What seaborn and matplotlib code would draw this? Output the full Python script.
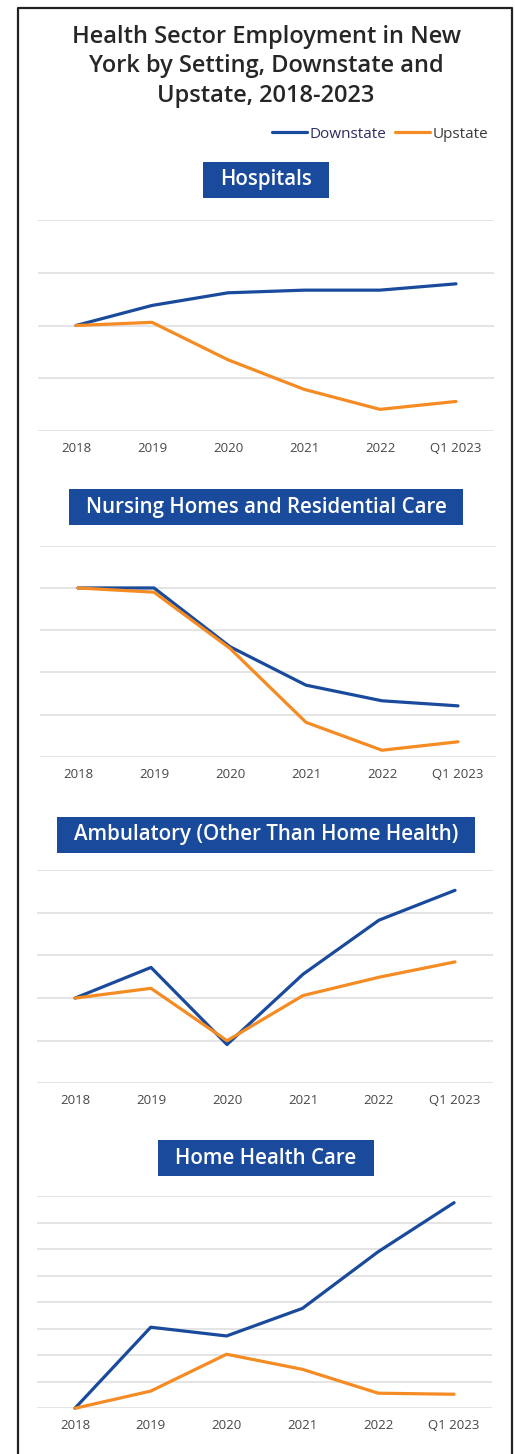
import numpy as np
import pandas as pd
import matplotlib
matplotlib.use("Agg")
import matplotlib.pyplot as plt
import seaborn as sns
from matplotlib.patches import Rectangle
from matplotlib.lines import Line2D

# ---------------- data (percent change since 2018) -------------
periods = ["2018", "2019", "2020", "2021", "2022", "Q1 2023"]
series_names = ["Downstate", "Upstate"]
panel_titles = ["Hospitals", "Nursing Homes and Residential Care",
                "Ambulatory (Other Than Home Health)", "Home Health Care"]

hosp_down = [0.0, 0.76, 1.24, 1.34, 1.34, 1.58]
hosp_up = [0.0, 0.12, -1.30, -2.42, -3.18, -2.88]
nurs_down = [0.0, 0.0, -6.95, -11.5, -13.35, -13.95]
nurs_up = [0.0, -0.5, -7.15, -15.9, -19.2, -18.2]
amb_down = [0.0, 2.88, -4.36, 2.24, 7.32, 10.12]
amb_up = [0.0, 0.92, -4.0, 0.24, 1.96, 3.4]
home_down = [0.0, 15.3, 13.65, 18.85, 29.55, 38.8]
home_up = [0.0, 3.25, 10.2, 7.35, 2.85, 2.65]

grid_hosp = [-4, -2, 0, 2, 4]
grid_nurs = [-20, -15, -10, -5, 0, 5]
grid_amb = [-8, -4, 0, 4, 8, 12]
grid_home = [0, 5, 10, 15, 20, 25, 30, 35, 40]

# ---------------- style -----------------
sns.set_theme(style="white")
plt.rcParams['font.family'] = ['Open Sans', 'DejaVu Sans']

BLUE = "#1a4a9c"
ORANGE = "#f58b23"
GRID = "#dcdcdc"
TICK = "#474747"

W, H = 515, 1454
fig = plt.figure(figsize=(W / 100, H / 100), dpi=100)
fig.patch.set_facecolor("white")

def fx(px):
    return px / W

def fy(py):
    return 1 - py / H

# frame (left, top, right; no bottom)
fig.add_artist(Line2D([fx(17.5), fx(17.5), fx(512), fx(512)],
                      [fy(1460), fy(7.5), fy(7.5), fy(1460)],
                      transform=fig.transFigure, color="#222222", lw=1.6))

# title
fig.text(fx(266), fy(66.5), "Health Sector Employment in New\nYork by Setting, Downstate and\nUpstate, 2018-2023",
         ha="center", va="center", fontsize=17, fontweight="semibold", color="#262626",
         linespacing=1.31)

# legend
handles = [Line2D([], [], color=BLUE, lw=2.3, solid_capstyle="round"),
           Line2D([], [], color=ORANGE, lw=2.3, solid_capstyle="round")]
leg = fig.legend(handles, series_names, loc="center right",
                 bbox_to_anchor=(fx(488), fy(134)), ncol=2, frameon=False,
                 fontsize=11, handlelength=2.3, handletextpad=0.15,
                 columnspacing=0.55, borderpad=0, borderaxespad=0)
leg.get_texts()[0].set_color("#2d2d66")
leg.get_texts()[1].set_color("#3a3a3a")

panels = [
    (hosp_down, hosp_up, grid_hosp, (38, 220, 494, 431), 180),
    (nurs_down, nurs_up, grid_nurs, (40, 545.7, 496, 757), 507),
    (amb_down, amb_up, grid_amb, (37, 870.3, 493, 1083.3), 834.5),
    (home_down, home_up, grid_home, (37, 1196.3, 492, 1408.3), 1158),
]

fig.canvas.draw()
renderer = fig.canvas.get_renderer()

for (down, up, grid, (l, t, r, b), hy), title in zip(panels, panel_titles):
    ax = fig.add_axes([fx(l), fy(b), (r - l) / W, (b - t) / H])
    df = pd.DataFrame({
        "period": periods * 2,
        "value": list(down) + list(up),
        "series": [series_names[0]] * len(periods) + [series_names[1]] * len(periods),
    })
    sns.lineplot(data=df, x="period", y="value", hue="series",
                 hue_order=series_names, palette=[BLUE, ORANGE],
                 linewidth=2.3, legend=False, sort=False, ax=ax)
    for ln in ax.lines:
        ln.set_solid_capstyle("round")
        ln.set_solid_joinstyle("round")
        ln.set_clip_on(False)
    ax.set_xlim(-0.5, len(periods) - 0.5)
    ax.set_ylim(grid[0], grid[-1])
    ax.set_yticks(grid)
    ax.set_yticklabels([])
    ax.yaxis.grid(True, color=GRID, lw=1.1)
    ax.set_axisbelow(True)
    for s in ax.spines.values():
        s.set_visible(False)
    ax.set_xlabel("")
    ax.set_ylabel("")
    ax.tick_params(axis="x", length=0, pad=8, labelsize=9.5, labelcolor=TICK)
    ax.tick_params(axis="y", length=0)

    # section header
    txt = fig.text(fx(266), fy(hy), title, ha="center", va="center",
                   fontsize=14.8, fontweight="semibold", color="white", zorder=5)
    bb = txt.get_window_extent(renderer=renderer)
    padx = 17
    bw = bb.width + 2 * padx
    bh = 36
    fig.add_artist(Rectangle((fx(266) - bw / 2 / W, fy(hy) - bh / 2 / H), bw / W, bh / H,
                             transform=fig.transFigure, facecolor=BLUE,
                             edgecolor="none", zorder=4))

fig.savefig("out.png", dpi=100, facecolor="white")
